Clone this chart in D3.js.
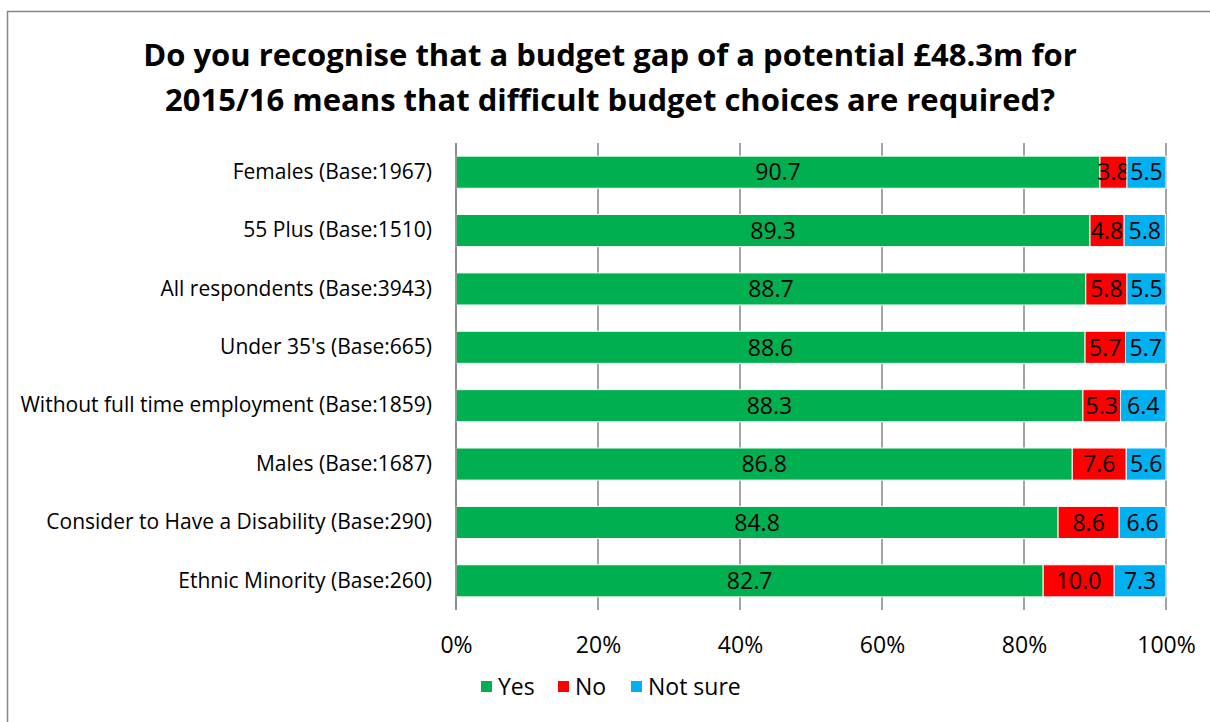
<!DOCTYPE html>
<html>
<head>
<meta charset="utf-8">
<script src="https://cdn.jsdelivr.net/npm/d3@7"></script>
<style>
  body { margin: 0; background: #fff; }
  text { font-family: "Open Sans", "Noto Sans", sans-serif; }
</style>
</head>
<body>
<svg id="chart" width="1210" height="722"></svg>
<script>
var categories = [
  "Females (Base:1967)",
  "55 Plus (Base:1510)",
  "All respondents (Base:3943)",
  "Under 35's (Base:665)",
  "Without full time employment (Base:1859)",
  "Males (Base:1687)",
  "Consider to Have a Disability (Base:290)",
  "Ethnic Minority (Base:260)"
];
var seriesNames = ["Yes", "No", "Not sure"];
var yesValues = [90.7, 89.3, 88.7, 88.6, 88.3, 86.8, 84.8, 82.7];
var noValues = [3.8, 4.8, 5.8, 5.7, 5.3, 7.6, 8.6, 10.0];
var notSureValues = [5.5, 5.8, 5.5, 5.7, 6.4, 5.6, 6.6, 7.3];
var tickValues = [0, 20, 40, 60, 80, 100];
var colors = ["#00B050", "#FF0000", "#00B0F0"];

var svg = d3.select("#chart");

// outer border
svg.append("rect")
   .attr("x", 7.5).attr("y", 11.5)
   .attr("width", 1210).attr("height", 720)
   .attr("fill", "none")
   .attr("stroke", "#868686")
   .attr("stroke-width", 1.5);

// title
var title = svg.append("text")
   .attr("x", 610).attr("text-anchor", "middle")
   .attr("font-weight", "bold").attr("font-size", 31)
   .attr("fill", "#000");
title.append("tspan").attr("x", 610).attr("y", 66)
     .text("Do you recognise that a budget gap of a potential £48.3m for");
title.append("tspan").attr("x", 610).attr("y", 111)
     .text("2015/16 means that difficult budget choices are required?");

var x = d3.scaleLinear().domain([0, 100]).range([456, 1166]);
var y = d3.scaleBand().domain(categories).range([143, 610]).paddingInner(0.45).paddingOuter(0.225);

// gridlines
svg.append("g").selectAll("line")
   .data(tickValues)
   .enter().append("line")
   .attr("x1", function(d) { return x(d); })
   .attr("x2", function(d) { return x(d); })
   .attr("y1", 143).attr("y2", 610)
   .attr("stroke", "#868686").attr("stroke-width", 1.5);

// stack
var rows = categories.map(function(c, i) {
  return { cat: c, "Yes": yesValues[i], "No": noValues[i], "Not sure": notSureValues[i] };
});
var stacked = d3.stack().keys(seriesNames)(rows);

var groups = svg.append("g").selectAll("g")
   .data(stacked)
   .enter().append("g")
   .attr("fill", function(d, i) { return colors[i]; });

groups.selectAll("rect")
   .data(function(d) { return d; })
   .enter().append("rect")
   .attr("x", function(d) { return x(d[0]); })
   .attr("width", function(d) { return x(d[1]) - x(d[0]); })
   .attr("y", function(d) { return y(d.data.cat); })
   .attr("height", y.bandwidth())
   .attr("stroke", "#fff").attr("stroke-width", 1);

groups.selectAll("text")
   .data(function(d) { return d; })
   .enter().append("text")
   .attr("x", function(d) { return (x(d[0]) + x(d[1])) / 2; })
   .attr("y", function(d) { return y(d.data.cat) + y.bandwidth() / 2; })
   .attr("dy", "0.36em")
   .attr("text-anchor", "middle")
   .attr("font-size", 23)
   .attr("fill", "#000")
   .text(function(d) { return (d[1] - d[0]).toFixed(1); });

// left axis line
svg.append("line")
   .attr("x1", 456).attr("x2", 456).attr("y1", 143).attr("y2", 610)
   .attr("stroke", "#868686").attr("stroke-width", 1.5);

// category labels
var yAxis = svg.append("g")
   .attr("transform", "translate(456,0)")
   .call(d3.axisLeft(y).tickSize(0).tickPadding(24));
yAxis.select(".domain").remove();
yAxis.selectAll("text")
   .attr("font-size", 21)
   .attr("font-family", "'Open Sans', 'Noto Sans', sans-serif")
   .attr("fill", "#000");

// x tick labels
var xAxis = svg.append("g")
   .attr("transform", "translate(0,610)")
   .call(d3.axisBottom(x).tickValues(tickValues).tickSize(0).tickPadding(27)
          .tickFormat(function(d) { return d + "%"; }));
xAxis.select(".domain").remove();
xAxis.selectAll("text")
   .attr("font-size", 23)
   .attr("font-family", "'Open Sans', 'Noto Sans', sans-serif")
   .attr("fill", "#000");

// legend
var legendX = [481, 558, 631];
var legend = svg.append("g").selectAll("g")
   .data(seriesNames)
   .enter().append("g")
   .attr("transform", function(d, i) { return "translate(" + legendX[i] + ",681)"; });
legend.append("rect")
   .attr("width", 11).attr("height", 11)
   .attr("fill", function(d, i) { return colors[i]; });
legend.append("text")
   .attr("x", 17).attr("y", 6).attr("dy", "0.36em")
   .attr("font-size", 23).attr("fill", "#000")
   .text(function(d) { return d; });
</script>
</body>
</html>
